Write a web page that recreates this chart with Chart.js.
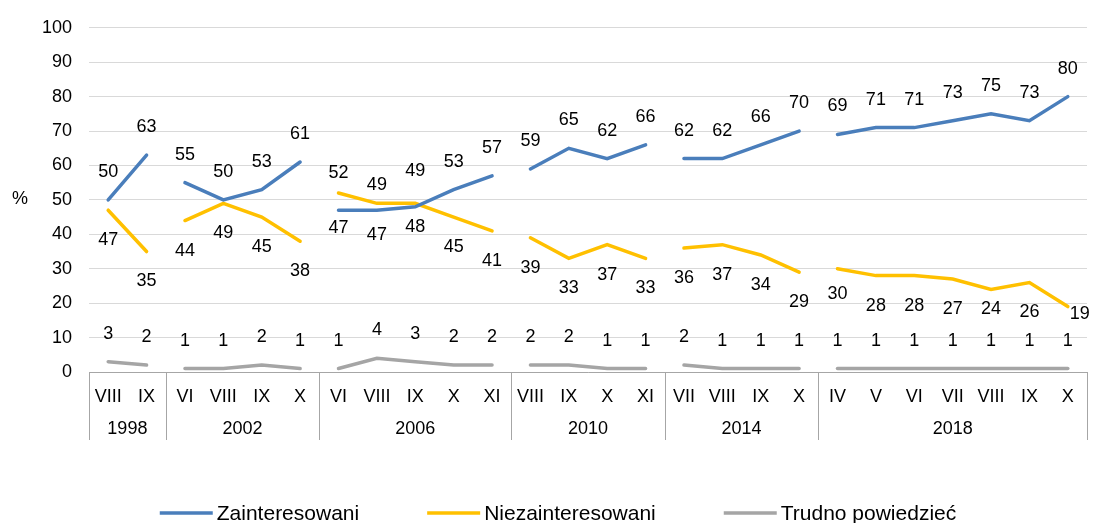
<!DOCTYPE html>
<html lang="pl">
<head>
<meta charset="UTF-8">
<title>Zainteresowani / Niezainteresowani</title>
<script src="https://cdn.jsdelivr.net/npm/chart.js"></script>
<style>
  * { margin: 0; padding: 0; }
  body { background: #fff; }
  .chartBox { width: 1093px; height: 523px; }
</style>
</head>
<body>
<div class="chartBox"><canvas id="myChart"></canvas></div>
<script>
// data
const months = ['VIII', 'IX', 'VI', 'VIII', 'IX', 'X', 'VI', 'VIII', 'IX', 'X', 'XI',
  'VIII', 'IX', 'X', 'XI', 'VII', 'VIII', 'IX', 'X', 'IV', 'V', 'VI', 'VII', 'VIII', 'IX', 'X'];
const years = ['1998', '2002', '2006', '2010', '2014', '2018'];
const yearSizes = [2, 4, 5, 4, 4, 7];
const zainteresowani = [50, 63, 55, 50, 53, 61, 47, 47, 48, 53, 57, 59, 65, 62, 66, 62, 62, 66, 70, 69, 71, 71, 73, 75, 73, 80];
const niezainteresowani = [47, 35, 44, 49, 45, 38, 52, 49, 49, 45, 41, 39, 33, 37, 33, 36, 37, 34, 29, 30, 28, 28, 27, 24, 26, 19];
const trudno = [3, 2, 1, 1, 2, 1, 1, 4, 3, 2, 2, 2, 2, 1, 1, 2, 1, 1, 1, 1, 1, 1, 1, 1, 1, 1];

const FONT = '"Liberation Sans", Arial, sans-serif';

// last index of each year group -> no line joins the next group
const groupEnds = [];
yearSizes.reduce((acc, n) => { groupEnds.push(acc + n - 1); return acc + n; }, 0);

// label placement (px from the point)
const defaultShift = [-28, 30, -28];
const labelShift = {
  0: { 6: [0, 18], 7: [0, 25], 8: [0, 20] },
  1: { 6: [0, -20], 7: [0, -18], 8: [0, -32], 19: [0, 25], 23: [0, 20], 25: [12, 7] }
};

const gapSegment = {
  borderColor: ctx => groupEnds.includes(ctx.p0DataIndex) ? 'rgba(0,0,0,0)' : undefined
};

const valueLabels = {
  id: 'valueLabels',
  afterDatasetsDraw(chart) {
    const ctx = chart.ctx;
    ctx.save();
    ctx.font = '18px ' + FONT;
    ctx.fillStyle = '#000';
    ctx.textAlign = 'center';
    ctx.textBaseline = 'middle';
    chart.data.datasets.forEach((ds, di) => {
      chart.getDatasetMeta(di).data.forEach((pt, i) => {
        const s = (labelShift[di] && labelShift[di][i]) || [0, defaultShift[di]];
        ctx.fillText(ds.data[i], pt.x + s[0], pt.y + s[1]);
      });
    });
    ctx.restore();
  }
};

const axisExtras = {
  id: 'axisExtras',
  afterDraw(chart) {
    const ctx = chart.ctx;
    const x = chart.scales.x;
    const band = (x.right - x.left) / months.length;
    ctx.save();
    // group separators
    ctx.strokeStyle = '#a6a6a6';
    ctx.lineWidth = 1;
    let pos = 0;
    const edges = [0];
    yearSizes.forEach(n => { pos += n; edges.push(pos); });
    edges.forEach(e => {
      const px = Math.round(x.left + e * band) + 0.5;
      ctx.beginPath();
      ctx.moveTo(px, x.top);
      ctx.lineTo(px, x.bottom);
      ctx.stroke();
    });
    // year labels
    ctx.fillStyle = '#000';
    ctx.font = '18px ' + FONT;
    ctx.textAlign = 'center';
    ctx.textBaseline = 'middle';
    years.forEach((y, i) => {
      const cx = x.left + (edges[i] + edges[i + 1]) / 2 * band;
      ctx.fillText(y, cx, x.top + 57);
    });
    // axis unit
    ctx.fillText('%', 20, 199);

    // legend
    ctx.font = '21px ' + FONT;
    ctx.textAlign = 'left';
    const lineW = 53, gapT = 4, gapI = 68;
    const items = chart.data.datasets.map(ds => ({
      color: ds.borderColor, text: ds.label, w: ctx.measureText(ds.label).width
    }));
    const total = items.reduce((a, it) => a + lineW + gapT + it.w, 0) + gapI * (items.length - 1);
    let lx = 558 - total / 2;
    const ly = 513;
    items.forEach(it => {
      ctx.strokeStyle = it.color;
      ctx.lineWidth = 3.5;
      ctx.beginPath();
      ctx.moveTo(lx, ly);
      ctx.lineTo(lx + lineW, ly);
      ctx.stroke();
      ctx.fillText(it.text, lx + lineW + gapT, ly + 1);
      lx += lineW + gapT + it.w + gapI;
    });
    ctx.restore();
  }
};

const data = {
  labels: months,
  datasets: [{
    label: 'Zainteresowani',
    data: zainteresowani,
    borderColor: '#4a7ebb',
    segment: gapSegment
  }, {
    label: 'Niezainteresowani',
    data: niezainteresowani,
    borderColor: '#ffc000',
    segment: gapSegment
  }, {
    label: 'Trudno powiedzieć',
    data: trudno,
    borderColor: '#a5a5a5',
    segment: gapSegment
  }]
};

const config = {
  type: 'line',
  data,
  options: {
    responsive: true,
    maintainAspectRatio: false,
    animation: false,
    events: [],
    layout: { padding: { top: 24, right: 6, bottom: 83, left: 0 } },
    elements: {
      line: { borderWidth: 3.5, tension: 0, borderCapStyle: 'round' },
      point: { radius: 0 }
    },
    scales: {
      x: {
        offset: true,
        grid: { display: false, drawTicks: false },
        border: { display: true, color: '#a6a6a6' },
        ticks: {
          autoSkip: false, maxRotation: 0, padding: 14,
          color: '#000', font: { family: FONT, size: 18 }
        },
        afterFit(scale) { scale.height = 68; }
      },
      y: {
        min: 0, max: 100,
        grid: { color: '#d9d9d9', drawTicks: false },
        border: { display: false },
        ticks: {
          stepSize: 10, padding: 17,
          color: '#000', font: { family: FONT, size: 18 }
        },
        afterFit(scale) { scale.width = 89; }
      }
    },
    plugins: {
      legend: { display: false },
      tooltip: { enabled: false }
    }
  },
  plugins: [valueLabels, axisExtras]
};

const myChart = new Chart(document.getElementById('myChart'), config);
</script>
</body>
</html>
